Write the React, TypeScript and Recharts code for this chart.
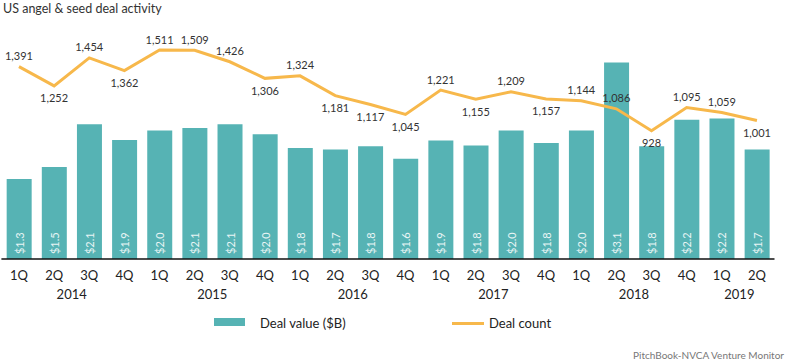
import React from 'react';
import {
  ComposedChart,
  Bar,
  Line,
  XAxis,
  YAxis,
  LabelList,
} from 'recharts';

const quarters = ['1Q', '2Q', '3Q', '4Q', '1Q', '2Q', '3Q', '4Q', '1Q', '2Q', '3Q', '4Q', '1Q', '2Q', '3Q', '4Q', '1Q', '2Q', '3Q', '4Q', '1Q', '2Q'];
const years = ['2014', '2014', '2014', '2014', '2015', '2015', '2015', '2015', '2016', '2016', '2016', '2016', '2017', '2017', '2017', '2017', '2018', '2018', '2018', '2018', '2019', '2019'];
const dealValue = [1.27, 1.46, 2.14, 1.89, 2.04, 2.08, 2.14, 1.98, 1.76, 1.74, 1.79, 1.59, 1.88, 1.8, 2.04, 1.84, 2.04, 3.12, 1.79, 2.21, 2.23, 1.74];
const dealCount = [1391, 1252, 1454, 1362, 1511, 1509, 1426, 1306, 1324, 1181, 1117, 1045, 1221, 1155, 1209, 1157, 1144, 1086, 928, 1095, 1059, 1001];

// which count labels sit under the line
const countBelow = [false, true, false, true, false, false, false, true, false, true, true, true, false, true, false, true, false, false, true, false, false, true];

const BAR = '#56b3b4';
const LINE = '#f7b84b';
const FONT = 'Lato, sans-serif';
const BAND = 35.14;

const data = quarters.map((q, i) => ({
  key: `${q} ${years[i]}`,
  value: dealValue[i],
  count: dealCount[i],
}));

const QuarterTick = (props: any) => {
  const { x, y, payload } = props;
  const i = payload.index;
  const first = years.indexOf(years[i]);
  const last = years.lastIndexOf(years[i]);
  return (
    <g>
      <text x={x} y={y + 13} textAnchor="middle" fontSize={13} fill="#222" fontFamily={FONT}>
        {quarters[i]}
      </text>
      {i === first && (
        <text x={x + ((last - first) / 2) * BAND} y={y + 32} textAnchor="middle" fontSize={13} fill="#222" fontFamily={FONT}>
          {years[i]}
        </text>
      )}
    </g>
  );
};

const ValueLabel = (props: any) => {
  const { x, y, width, height, value } = props;
  const cx = x + width / 2;
  const by = y + height - 5;
  return (
    <text
      x={cx}
      y={by}
      transform={`rotate(-90, ${cx}, ${by})`}
      textAnchor="start"
      dominantBaseline="central"
      fontSize={11}
      fill="#e8f5f5"
      fontFamily={FONT}
    >
      {`$${Number(value).toFixed(1)}`}
    </text>
  );
};

const CountLabel = (props: any) => {
  const { x, y, value, index } = props;
  const below = countBelow[index];
  return (
    <text
      x={x}
      y={below ? y + 12 : y - 11}
      textAnchor="middle"
      dominantBaseline="central"
      fontSize={11}
      fill="#333"
      fontFamily={FONT}
    >
      {Number(value).toLocaleString('en-US')}
    </text>
  );
};

export default function App() {
  return (
    <div style={{ position: 'absolute', left: 0, top: 0, width: 789, height: 362, background: '#fff', fontFamily: FONT }}>
      <div style={{ position: 'absolute', left: 3, top: 1, fontSize: 12.5, color: '#333' }}>
        US angel &amp; seed deal activity
      </div>
      <ComposedChart
        width={789}
        height={362}
        data={data}
        barCategoryGap="15%"
        margin={{ top: 7, right: 14.5, left: 1.4, bottom: 63 }}
      >
        <XAxis
          dataKey="key"
          interval={0}
          tickLine={false}
          axisLine={{ stroke: '#111', strokeWidth: 1.5 }}
          tick={<QuarterTick />}
          height={40}
        />
        <YAxis yAxisId="value" hide domain={[0, 4]} />
        <YAxis yAxisId="count" hide orientation="right" domain={[0, 1822]} />
        <Bar yAxisId="value" dataKey="value" fill={BAR} isAnimationActive={false}>
          <LabelList dataKey="value" content={<ValueLabel />} />
        </Bar>
        <Line
          yAxisId="count"
          dataKey="count"
          stroke={LINE}
          strokeWidth={3}
          dot={false}
          isAnimationActive={false}
          label={(p: any) => <CountLabel {...p} />}
        />
      </ComposedChart>
      <div style={{ position: 'absolute', left: 214, top: 318, width: 31, height: 8, background: BAR }} />
      <div style={{ position: 'absolute', left: 260, top: 314, fontSize: 13, color: '#222', lineHeight: '18px' }}>
        Deal value ($B)
      </div>
      <div style={{ position: 'absolute', left: 452, top: 322, width: 32, height: 3, background: LINE }} />
      <div style={{ position: 'absolute', left: 489, top: 314, fontSize: 13, color: '#222', lineHeight: '18px' }}>
        Deal count
      </div>
      <div style={{ position: 'absolute', right: 5, top: 349, fontSize: 10, color: '#777' }}>
        PitchBook-NVCA Venture Monitor
      </div>
    </div>
  );
}
